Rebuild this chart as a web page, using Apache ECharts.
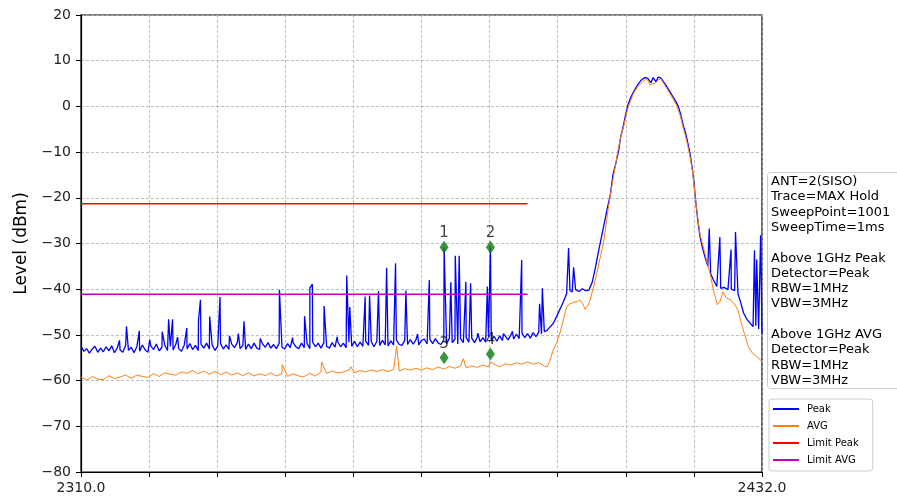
<!DOCTYPE html>
<html>
<head>
<meta charset="utf-8">
<title>Level (dBm)</title>
<script src="https://cdn.jsdelivr.net/npm/echarts@6/dist/echarts.min.js"></script>
<style>
  html, body { margin: 0; padding: 0; background: #fff; }
  #main { width: 897px; height: 503px; }
</style>
</head>
<body>
<div id="main"></div>
<script>
// x range (MHz) and y range (dBm)
const freqMin = 2310
const freqMax = 2432
const freqStep = 12.2
const levelTicks = [-80, -70, -60, -50, -40, -30, -20, -10, 0, 10, 20]

// Peak trace: noise floor sampled every 0.5 MHz from 2310 to 2392
const peakFloorStart = 2310
const peakFloorStep = 0.5
const peakFloor = [
  -52.4, -53.6, -53.0, -54.0, -53.1, -52.5, -53.8, -52.9, -53.7, -52.6,
  -53.5, -52.4, -53.9, -52.8, -53.3, -53.8, -52.3, -53.4, -52.7, -53.9,
  -52.6, -53.6, -52.2, -53.3, -53.8, -52.4, -53.2, -52.0, -53.5, -52.7,
  -52.2, -53.4, -52.5, -53.3, -52.0, -53.0, -53.6, -52.2, -53.1, -51.9,
  -53.2, -52.3, -53.4, -52.0, -52.9, -51.8, -53.1, -52.2, -53.4, -52.4,
  -51.9, -53.1, -52.2, -53.2, -52.0, -52.8, -51.7, -53.0, -52.3, -53.2,
  -52.0, -53.0, -51.8, -52.9, -53.2, -51.9, -52.7, -51.7, -52.9, -52.1,
  -53.0, -51.8, -52.7, -53.1, -51.9, -52.8, -51.7, -52.6, -53.0, -51.8,
  -52.8, -51.9, -53.0, -51.6, -52.6, -51.8, -52.9, -51.7, -52.5, -52.9,
  -51.7, -52.7, -51.5, -52.6, -51.8, -52.8, -51.6, -52.5, -51.4, -52.6,
  -51.6, -52.5, -51.3, -52.3, -51.5, -52.6, -51.4, -52.3, -51.2, -52.2,
  -52.4, -51.3, -52.2, -51.1, -52.1, -52.3, -51.2, -52.1, -51.0, -52.0,
  -51.1, -52.2, -51.2, -50.9, -52.0, -51.0, -51.9, -50.8, -51.8, -52.1,
  -51.0, -51.9, -50.7, -51.7, -50.9, -52.0, -50.8, -51.7, -50.6, -51.6,
  -50.7, -51.7, -50.5, -51.5, -50.6, -51.6, -50.4, -51.3, -50.3, -51.4,
  -50.2, -51.2, -50.1, -51.1, -50.0, -50.9, -49.8, -50.8, -49.6, -50.6,
  -49.7, -50.7, -49.5, -50.4, -49.4
]

// Peak trace: narrow spurs [MHz, dBm]
const peakSpikes = [
  [2316.9, -51.2], [2318.15, -48.1], [2320.45, -49.1], [2322.3, -51.0], [2324.55, -49.3],
  [2325.7, -46.6], [2326.4, -46.6], [2327.3, -50.5], [2328.95, -48.5], [2331.05, -46.8],
  [2331.4, -42.3], [2333.05, -46.0], [2334.9, -41.7], [2336.6, -50.2], [2338.2, -49.7],
  [2339.2, -47.0], [2342.1, -50.8], [2345.55, -40.1], [2347.9, -50.6], [2350.05, -45.9],
  [2351.0, -39.7], [2351.45, -38.9], [2353.55, -43.7], [2355.9, -50.4], [2357.6, -37.0],
  [2358.15, -43.9], [2360.9, -41.6], [2361.7, -41.4], [2363.3, -40.4], [2364.75, -35.3],
  [2366.35, -34.3], [2368.2, -40.3], [2370.3, -49.8], [2372.4, -38.0], [2375.05, -30.8],
  [2376.25, -38.5], [2377.05, -32.7], [2377.75, -32.7], [2378.95, -38.4], [2379.8, -38.7],
  [2381.1, -49.6], [2382.8, -39.4], [2383.35, -30.8], [2385.7, -49.7], [2387.3, -49.2],
  [2388.95, -33.6], [2392.15, -43.2], [2392.65, -39.8], [2397.35, -31.0], [2398.25, -35.2],
  [2422.55, -26.7], [2424.45, -28.6], [2426.45, -31.3], [2427.25, -27.5], [2430.65, -31.5],
  [2431.05, -33.5], [2431.75, -28.2]
]

// Peak trace: carrier and shoulders [MHz, dBm]
const peakBand = [
  [2392.5, -49.8], [2393.0, -49.3], [2393.5, -49.0], [2394.0, -48.3], [2394.6, -47.5],
  [2395.2, -46.0], [2395.8, -44.4], [2396.4, -42.8], [2397.0, -41.0], [2397.6, -40.3],
  [2398.0, -40.6], [2398.6, -40.1], [2399.2, -40.5], [2399.8, -39.9], [2400.4, -40.3],
  [2401.0, -40.2], [2401.6, -38.4], [2402.2, -35.0], [2402.8, -31.2], [2403.3, -28.2],
  [2403.8, -25.2], [2404.3, -22.2], [2404.8, -19.6], [2405.3, -15.0], [2405.8, -12.5],
  [2406.3, -9.8], [2406.7, -6.5], [2407.0, -5.2], [2407.5, -2.2], [2408.0, 0.4],
  [2408.5, 2.0], [2409.0, 3.2], [2409.5, 4.3], [2410.0, 5.2], [2410.5, 5.9],
  [2411.0, 6.3], [2411.5, 6.2], [2411.8, 6.4], [2412.1, 5.2], [2412.5, 6.3],
  [2412.8, 6.2], [2413.0, 5.4], [2413.4, 6.4], [2413.9, 6.2], [2414.4, 5.3],
  [2414.8, 4.6], [2415.2, 3.8], [2415.7, 2.8], [2416.1, 2.0], [2416.6, 1.0],
  [2417.0, 0.0], [2417.4, -1.6], [2417.9, -4.2], [2418.3, -5.8], [2418.6, -7.4],
  [2419.1, -10.3], [2419.5, -13.5], [2419.8, -16.5], [2420.1, -20.5], [2420.5, -25.0],
  [2420.9, -28.5], [2421.3, -30.8], [2421.8, -33.0], [2422.3, -35.0], [2422.8, -36.6],
  [2423.3, -38.0], [2423.9, -39.4], [2424.6, -39.8], [2425.2, -39.6], [2425.9, -40.1],
  [2426.5, -40.0], [2427.1, -40.3], [2427.7, -41.0], [2428.2, -43.0], [2428.7, -45.2],
  [2429.3, -46.6], [2429.8, -47.3], [2430.4, -48.2], [2430.9, -48.0], [2431.4, -48.7],
  [2432.0, -49.7]
]

// AVG trace: floor sampled every 1 MHz from 2310 to 2393
const avgFloorStart = 2310
const avgFloorStep = 1
const avgFloor = [
  -59.2, -59.9, -59.1, -59.7, -59.8, -58.9, -59.6, -59.2, -58.8, -59.5,
  -58.8, -59.1, -59.3, -58.5, -59.1, -58.3, -58.6, -58.8, -58.1, -58.4,
  -57.8, -58.5, -57.9, -58.6, -58.0, -58.7, -58.1, -58.8, -58.3, -58.9,
  -58.3, -59.0, -58.5, -58.9, -58.3, -59.0, -58.5, -59.1, -58.5, -59.0,
  -59.1, -58.4, -59.0, -58.1, -58.4, -57.9, -58.3, -58.1, -57.7, -58.3,
  -57.8, -58.1, -57.7, -58.0, -57.6, -58.0, -57.5, -57.9, -57.4, -57.7,
  -57.3, -57.7, -57.2, -57.6, -57.0, -57.5, -56.9, -57.3, -56.8, -57.2,
  -56.8, -57.1, -56.6, -57.0, -56.4, -57.0, -56.3, -56.6, -56.1, -56.4,
  -55.9, -56.4, -56.1, -56.8
]

const avgSpikes = [
  [2346.05, -56.5], [2353.1, -55.9], [2358.35, -57.0], [2366.55, -52.5],
  [2378.5, -55.2], [2383.4, -55.9]
]

const avgBand = [
  [2393.5, -57.0], [2394.0, -55.6], [2394.6, -53.3], [2395.2, -51.8], [2395.8, -49.6],
  [2396.4, -46.8], [2397.0, -43.8], [2397.6, -43.2], [2398.2, -42.9], [2398.9, -42.7],
  [2399.4, -42.4], [2399.9, -43.2], [2400.3, -44.4], [2400.8, -43.6], [2401.2, -42.4],
  [2401.8, -39.6], [2402.4, -36.6], [2403.0, -33.2], [2403.6, -30.0], [2404.1, -25.5],
  [2404.5, -22.0], [2405.0, -18.2], [2405.4, -15.3], [2405.8, -12.5], [2406.2, -9.6],
  [2406.7, -6.6], [2407.2, -4.5], [2407.6, -2.2], [2408.0, -0.3], [2408.5, 1.3],
  [2408.9, 2.6], [2409.4, 3.7], [2409.8, 4.4], [2410.3, 5.0], [2410.8, 5.6],
  [2411.2, 5.9], [2411.6, 5.7], [2411.9, 4.7], [2412.3, 4.9], [2412.7, 5.0],
  [2413.1, 5.3], [2413.5, 5.9], [2413.9, 6.0], [2414.4, 5.0], [2414.8, 4.2],
  [2415.2, 3.4], [2415.7, 2.4], [2416.1, 1.6], [2416.6, 0.4], [2417.0, -0.8],
  [2417.4, -2.2], [2417.9, -4.8], [2418.3, -6.5], [2418.6, -8.0], [2419.1, -11.0],
  [2419.5, -13.8], [2419.8, -16.8], [2420.1, -20.6], [2420.5, -24.5], [2420.9, -28.0],
  [2421.5, -30.8], [2422.1, -33.8], [2422.7, -36.6], [2423.3, -40.2], [2424.0, -43.4],
  [2424.5, -42.6], [2425.0, -40.6], [2425.6, -41.9], [2426.3, -42.3], [2427.0, -43.1],
  [2427.7, -44.6], [2428.3, -47.5], [2429.0, -50.4], [2429.6, -52.7], [2430.3, -54.0],
  [2431.0, -54.7], [2431.6, -55.3], [2432.0, -55.9]
]

// limit lines
const limitStart = 2310
const limitEnd = 2390
const limitPeak = -21.3
const limitAvg = -41.1

// markers
const markerNames = ['1', '2', '3', '4']
const markerFreqs = [2375.05, 2383.35, 2375.05, 2383.35]
const markerLevels = [-30.8, -30.8, -55.0, -54.2]

const legendNames = ['Peak', 'AVG', 'Limit Peak', 'Limit AVG']

const infoLines = [
  'ANT=2(SISO)',
  'Trace=MAX Hold',
  'SweepPoint=1001',
  'SweepTime=1ms',
  '',
  'Above 1GHz Peak',
  'Detector=Peak',
  'RBW=1MHz',
  'VBW=3MHz',
  '',
  'Above 1GHz AVG',
  'Detector=Peak',
  'RBW=1MHz',
  'VBW=3MHz'
]

function buildTrace(start, step, floor, spikes, band) {
  let pts = floor.map((v, i) => [start + i * step, v])
  pts = pts.concat(spikes, band)
  pts.sort((a, b) => a[0] - b[0])
  return pts
}

const peakData = buildTrace(peakFloorStart, peakFloorStep, peakFloor, peakSpikes, peakBand)
const avgData = buildTrace(avgFloorStart, avgFloorStep, avgFloor, avgSpikes, avgBand)
const markerData = markerFreqs.map((f, i) => ({ value: [f, markerLevels[i]], name: markerNames[i] }))

const font = 'DejaVu Sans'
const dash = [3, 2]

let chart = echarts.init(document.getElementById('main'))
chart.setOption({
  animation: false,
  textStyle: { fontFamily: font },
  grid: {
    left: 81,
    right: 135,
    top: 15,
    bottom: 31,
    show: true,
    borderColor: '#000',
    borderWidth: 1.2,
    backgroundColor: '#fff'
  },
  legend: {
    data: legendNames,
    orient: 'vertical',
    left: 769,
    top: 399,
    icon: 'rect',
    itemWidth: 26,
    itemHeight: 2,
    itemGap: 5,
    padding: [4, 14, 5, 4],
    borderColor: '#cccccc',
    borderWidth: 1,
    borderRadius: 3,
    backgroundColor: '#fff',
    selectedMode: false,
    textStyle: { fontFamily: font, fontSize: 10, lineHeight: 12, color: '#000', padding: [0, 0, 0, 3] }
  },
  xAxis: {
    type: 'value',
    min: freqMin,
    max: freqMax,
    interval: freqStep,
    axisLine: { onZero: false, lineStyle: { color: '#000', width: 1.2 } },
    axisTick: { show: true, length: 5, lineStyle: { color: '#000' } },
    axisLabel: {
      color: '#222',
      fontSize: 14,
      margin: 9,
      showMinLabel: true,
      showMaxLabel: true,
      hideOverlap: false,
      formatter: function (v) {
        if (Math.abs(v - freqMin) < 0.01 || Math.abs(v - freqMax) < 0.01) return v.toFixed(1)
        return ''
      }
    },
    splitLine: { show: true, lineStyle: { color: '#b0b0b0', type: dash, width: 0.8 } }
  },
  yAxis: {
    type: 'value',
    min: levelTicks[0],
    max: levelTicks[levelTicks.length - 1],
    interval: 10,
    name: 'Level (dBm)',
    nameLocation: 'middle',
    nameGap: 45,
    nameTextStyle: { fontSize: 17, color: '#000', fontFamily: font },
    axisLine: { show: true, onZero: false, lineStyle: { color: '#000', width: 1.2 } },
    axisTick: { show: true, length: 5, lineStyle: { color: '#000' } },
    axisLabel: {
      color: '#222',
      fontSize: 14,
      margin: 10,
      formatter: function (v) { return String(v).replace('-', '\u2212') }
    },
    splitLine: { show: true, lineStyle: { color: '#b0b0b0', type: dash, width: 0.8 } }
  },
  graphic: [
    {
      type: 'rect',
      left: 767,
      top: 172,
      shape: { width: 140, height: 216, r: 3 },
      style: { fill: '#fff', stroke: '#cccccc', lineWidth: 1 }
    },
    {
      type: 'text',
      left: 771,
      top: 174,
      style: {
        text: infoLines.join('\n'),
        font: '13px "DejaVu Sans"',
        lineHeight: 15.3,
        fill: '#000'
      }
    }
  ],
  series: [
    {
      name: 'Peak',
      type: 'line',
      data: peakData,
      symbol: 'none',
      lineStyle: { color: '#0000ff', width: 1.3 },
      itemStyle: { color: '#0000ff' }
    },
    {
      name: 'AVG',
      type: 'line',
      data: avgData,
      symbol: 'none',
      lineStyle: { color: '#ff7f0e', width: 1 },
      itemStyle: { color: '#ff7f0e' }
    },
    {
      name: 'Limit Peak',
      type: 'line',
      data: [[limitStart, limitPeak], [limitEnd, limitPeak]],
      symbol: 'none',
      lineStyle: { color: '#ff0000', width: 1.3 },
      itemStyle: { color: '#ff0000' }
    },
    {
      name: 'Limit AVG',
      type: 'line',
      data: [[limitStart, limitAvg], [limitEnd, limitAvg]],
      symbol: 'none',
      lineStyle: { color: '#c000c0', width: 1.3 },
      itemStyle: { color: '#c000c0' }
    },
    {
      name: 'Markers',
      type: 'scatter',
      data: markerData,
      symbol: 'diamond',
      symbolSize: [9, 13],
      itemStyle: { color: '#0b7a0b' },
      label: {
        show: true,
        position: 'top',
        distance: 0,
        formatter: '{b}',
        fontFamily: font,
        fontSize: 15,
        color: '#111'
      },
      z: 5
    }
  ]
})
</script>
</body>
</html>
